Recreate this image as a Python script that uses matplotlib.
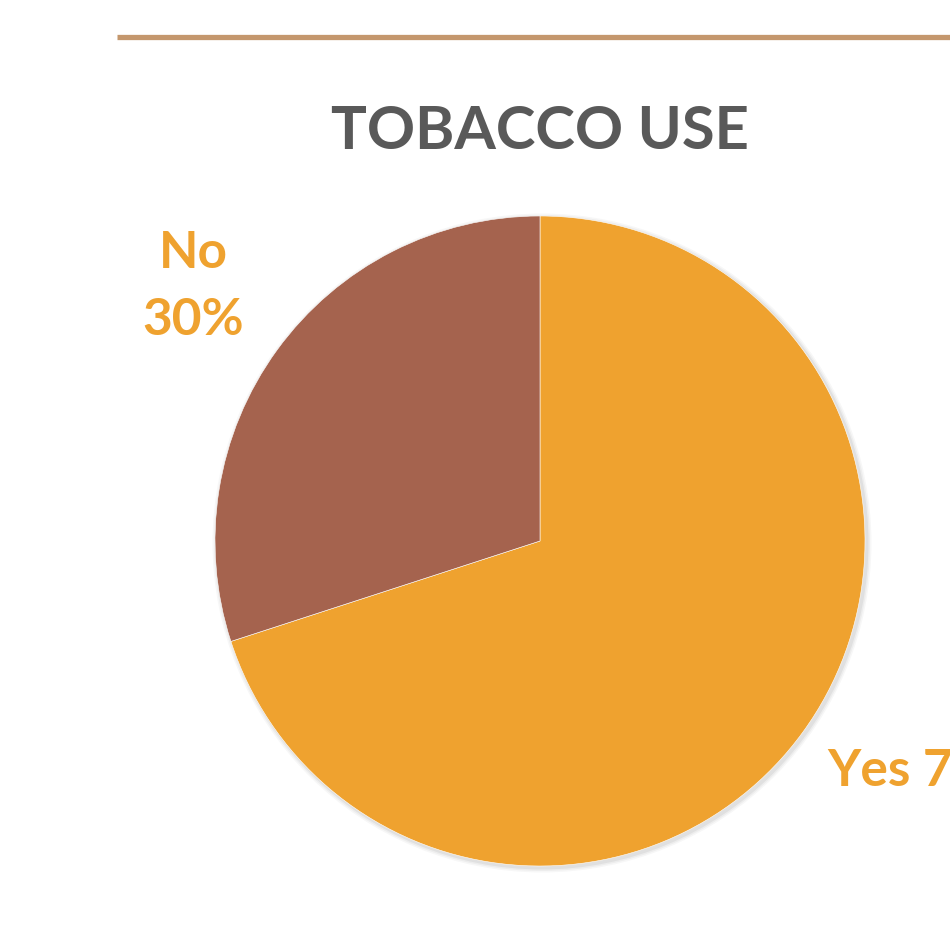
import matplotlib
matplotlib.use("Agg")
import matplotlib.pyplot as plt

labels = ["Yes", "No"]
values = [70, 30]
colors = ["#EFA22F", "#A5634E"]
title = "TOBACCO USE"

W, H = 950, 927
fig = plt.figure(figsize=(W / 100, H / 100), dpi=100)
ax = fig.add_axes([0, 0, 1, 1])
ax.set_xlim(0, W)
ax.set_ylim(0, H)
ax.set_aspect("equal")
ax.axis("off")

# top rule
ax.plot([117, 950], [H - 37, H - 37], color="#C4976D", lw=3.8, solid_capstyle="butt")

cx, cy, r = 540, H - 541, 325
# soft shadow
for i, a in enumerate([0.05, 0.04, 0.03]):
    sh = plt.Circle((cx + 2, cy - 2), r + 1.5 + i * 1.5, color="black", alpha=a, lw=0)
    ax.add_patch(sh)

ax.pie(values, colors=colors, startangle=90, counterclock=False,
       center=(cx, cy), radius=r, frame=True,
       wedgeprops=dict(edgecolor="white", linewidth=0.4))
ax.set_xlim(0, W)
ax.set_ylim(0, H)
ax.axis("off")

font = "Lato"
ax.text(540, H - 132, title, ha="center", va="center", fontsize=43,
        fontweight="bold", color="#595959", family=font)
ax.text(193, H - 287, f"{labels[1]}\n{values[1]}%", ha="center", va="center",
        fontsize=37, fontweight="bold", color="#EFA22F", family=font,
        linespacing=1.55)
ax.text(827, H - 771, f"{labels[0]} {values[0]}%", ha="left", va="center",
        fontsize=37, fontweight="bold", color="#EFA22F", family=font)

fig.savefig("out.png", dpi=100)
